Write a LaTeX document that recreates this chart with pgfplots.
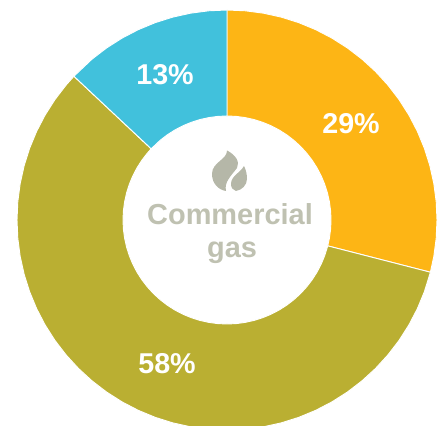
\documentclass[border=0pt]{standalone}
\usepackage{fontspec}
\setmainfont{Liberation Sans}
\usepackage{pgfplots}
\pgfplotsset{compat=1.18}
\definecolor{gasorange}{HTML}{FDB515}
\definecolor{gasolive}{HTML}{BAAF32}
\definecolor{gascyan}{HTML}{41C1DC}
\definecolor{gastext}{HTML}{BFC1B1}
\definecolor{gasicon}{HTML}{B5B7A8}
\begin{document}
\begin{tikzpicture}
% Page frame: the ring runs slightly past its lower edge
\path[use as bounding box, clip] (0,0) rectangle (329.25pt,318.75pt);
\begin{axis}[
  at={(0,0)}, anchor=south west,
  scale only axis, width=329.25pt, height=318.75pt,
  xmin=-227, xmax=212, ymin=-205, ymax=220,
  hide axis, clip=true,
  every axis plot/.append style={draw=white, line width=0.7pt, line join=round},
]
% Shares: 29 %, 58 %, 13 %, clockwise from the top; (angle, radius) pairs
\addplot[fill=gasorange, data cs=polar] coordinates {
 (90,210)(85,210)(80,210)(75,210)(70,210)(65,210)(60,210)(55,210)(50,210)(45,210)(40,210)
 (35,210)(30,210)(25,210)(20,210)(15,210)(10,210)(5,210)(0,210)(-5,210)(-10,210)(-14.4,210)
 (-14.4,104)(-10,104)(-5,104)(0,104)(5,104)(10,104)(15,104)(20,104)(25,104)(30,104)(35,104)
 (40,104)(45,104)(50,104)(55,104)(60,104)(65,104)(70,104)(75,104)(80,104)(85,104)(90,104)
} --cycle;
\addplot[fill=gasolive, data cs=polar] coordinates {
 (-14.4,210)(-20,210)(-25,210)(-30,210)(-35,210)(-40,210)(-45,210)(-50,210)(-55,210)(-60,210)
 (-65,210)(-70,210)(-75,210)(-80,210)(-85,210)(-90,210)(-95,210)(-100,210)(-105,210)(-110,210)
 (-115,210)(-120,210)(-125,210)(-130,210)(-135,210)(-140,210)(-145,210)(-150,210)(-155,210)
 (-160,210)(-165,210)(-170,210)(-175,210)(-180,210)(-185,210)(-190,210)(-195,210)(-200,210)
 (-205,210)(-210,210)(-215,210)(-220,210)(-223.2,210)
 (-223.2,104)(-220,104)(-215,104)(-210,104)(-205,104)(-200,104)(-195,104)(-190,104)(-185,104)
 (-180,104)(-175,104)(-170,104)(-165,104)(-160,104)(-155,104)(-150,104)(-145,104)(-140,104)
 (-135,104)(-130,104)(-125,104)(-120,104)(-115,104)(-110,104)(-105,104)(-100,104)(-95,104)
 (-90,104)(-85,104)(-80,104)(-75,104)(-70,104)(-65,104)(-60,104)(-55,104)(-50,104)(-45,104)
 (-40,104)(-35,104)(-30,104)(-25,104)(-20,104)(-14.4,104)
} --cycle;
\addplot[fill=gascyan, data cs=polar] coordinates {
 (136.8,210)(130,210)(125,210)(120,210)(115,210)(110,210)(105,210)(100,210)(95,210)(90,210)
 (90,104)(95,104)(100,104)(105,104)(110,104)(115,104)(120,104)(125,104)(130,104)(136.8,104)
} --cycle;

% Share labels
\node[text=white, font=\bfseries\fontsize{21.5}{25}\selectfont] at (axis cs:124,96) {29\%};
\node[text=white, font=\bfseries\fontsize{21.5}{25}\selectfont] at (axis cs:-60,-144) {58\%};
\node[text=white, font=\bfseries\fontsize{21.5}{25}\selectfont] at (axis cs:-62,145) {13\%};

% Centre caption
\node[text=gastext, font=\bfseries\fontsize{21.7}{26}\selectfont] at (axis cs:3,6) {Commercial};
\node[text=gastext, font=\bfseries\fontsize{21.7}{26}\selectfont] at (axis cs:5,-33) {gas};

% Flame icon
\fill[gasicon] (axis cs:0,69.5)
  .. controls (axis cs:0,60) and (axis cs:-15,58) .. (axis cs:-15,46)
  .. controls (axis cs:-15,36) and (axis cs:-8,30) .. (axis cs:-1,29)
  .. controls (axis cs:-3,38) and (axis cs:4,44) .. (axis cs:10,52)
  .. controls (axis cs:13,58) and (axis cs:9,65) .. (axis cs:0,69.5) -- cycle;
\fill[gasicon] (axis cs:17,54)
  .. controls (axis cs:13,47) and (axis cs:4,44) .. (axis cs:4,36)
  .. controls (axis cs:4,32) and (axis cs:6,30) .. (axis cs:9,29)
  .. controls (axis cs:15,30) and (axis cs:20,35) .. (axis cs:20,41)
  .. controls (axis cs:20,46) and (axis cs:19,50) .. (axis cs:17,54) -- cycle;
\end{axis}
\end{tikzpicture}
\end{document}
